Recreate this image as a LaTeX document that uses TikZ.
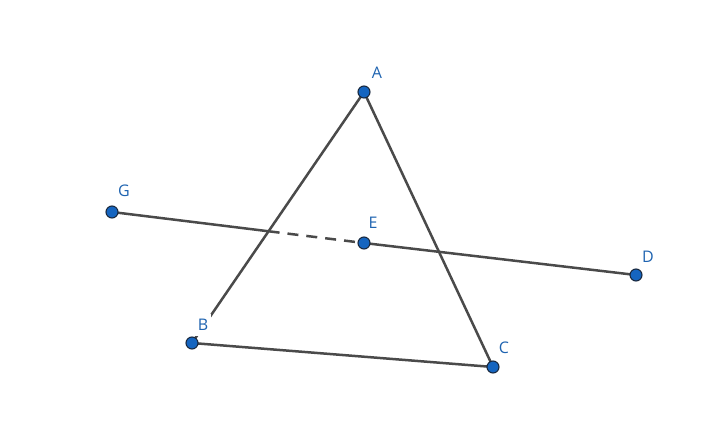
\documentclass[tikz,border=0pt]{standalone}
\usepackage{fontspec}
\setmainfont{Open Sans}
\usetikzlibrary{calc}
\definecolor{seg}{HTML}{4A4A4A}
\definecolor{dotfill}{HTML}{1565C0}
\definecolor{dotline}{HTML}{1A2A40}
\definecolor{lbl}{HTML}{1E63B0}
\tikzset{
  segline/.style={draw=seg, line width=2.5pt, line cap=round},
  hidden/.style={draw=seg, line width=2.5pt, dash pattern=on 11pt off 8pt},
  ptdot/.style={circle, fill=dotfill, draw=dotline, line width=1.1pt, minimum size=12pt, inner sep=0pt},
  ptlabel/.style={text=lbl, font=\fontsize{16pt}{18pt}\selectfont, inner sep=2pt},
}
\begin{document}
\begin{tikzpicture}[x=1pt,y=-1pt]
\useasboundingbox (0,0) rectangle (706,435);
\coordinate (A) at (364,92);
\coordinate (B) at (192,343);
\coordinate (C) at (493,367);
\coordinate (D) at (636,275);
\coordinate (E) at (364,243);
\coordinate (G) at (112,212);
\coordinate (X) at (intersection of G--E and A--B);
\draw[segline] (A) -- (B);
\draw[segline] (A) -- (C);
\draw[segline] (B) -- (C);
\draw[segline] (G) -- (X);
\draw[hidden] (X) -- (E);
\draw[segline] (E) -- (D);
\node[ptlabel] (lA) at (377,73) {A};
\node[ptlabel, fill=white, inner xsep=3pt, inner ysep=5pt] (lB) at (203,325) {B};
\node[ptlabel] (lC) at (504,348) {C};
\node[ptlabel] (lD) at (648,257) {D};
\node[ptlabel] (lE) at (373,223) {E};
\node[ptlabel] (lG) at (124,191) {G};
\foreach \p in {A,B,C,D,E,G} \node[ptdot] (d\p) at (\p) {};
\end{tikzpicture}
\end{document}
